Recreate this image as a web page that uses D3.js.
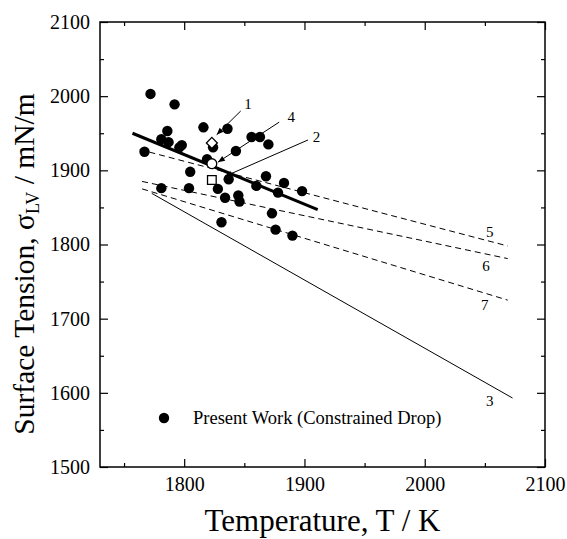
<!DOCTYPE html>
<html>
<head>
<meta charset="utf-8">
<script src="https://cdn.jsdelivr.net/npm/d3@7"></script>
<style>
  body { margin: 0; background: #fff; }
  svg { display: block; }
  text { font-family: "Liberation Serif", "Times New Roman", serif; fill: #000; }
</style>
</head>
<body>
<svg id="chart" width="567" height="539"></svg>
<script>
"use strict";

// Present work (constrained drop) data points [T (K), sigma (mN/m)]
var presentT = [1772, 1792, 1786, 1781, 1787, 1796, 1798, 1767, 1816, 1836, 1824, 1843, 1856, 1863, 1870,
  1819, 1805, 1781, 1804, 1837, 1828, 1834, 1845, 1846, 1868, 1860, 1883, 1878, 1898, 1831, 1873, 1876, 1890];
var presentSigma = [2003, 1989, 1953, 1942, 1938, 1931, 1934, 1925, 1958, 1956, 1931, 1926, 1945, 1945, 1935,
  1915, 1898, 1876, 1876, 1888, 1875, 1863, 1866, 1858, 1892, 1879, 1883, 1870, 1872, 1830, 1842, 1820, 1812];

// literature single points: 1 = diamond, 4 = circle, 2 = square
var refPointLabels = ["1", "4", "2"];
var refPointShapes = ["diamond", "circle", "square"];
var refPointT = [1823, 1823, 1823];
var refPointSigma = [1937, 1909, 1887];

// arrows pointing at the single points: label position, arrow start, arrow tip
var arrowLabelT = [1853, 1889, 1910];
var arrowLabelSigma = [1990, 1972, 1945];
var arrowFromT = [1847, 1879, 1903];
var arrowFromSigma = [1980, 1965, 1941];
var arrowToT = [1827, 1828, 1834];
var arrowToSigma = [1948, 1911, 1892];

// present work linear fit
var fitT = [1757, 1911];
var fitSigma = [1950, 1847];

// literature lines: label, style, end points
var litLabels = ["3", "5", "6", "7"];
var litDashed = [false, true, true, true];
var litT0 = [1773, 1763, 1765, 1765];
var litSigma0 = [1869, 1928, 1885, 1875];
var litT1 = [2073, 2069, 2069, 2069];
var litSigma1 = [1593, 1798, 1781, 1725];
var litLabelT = [2054, 2054, 2051, 2050];
var litLabelSigma = [1589, 1817, 1772, 1719];

var xTicks = [1800, 1900, 2000, 2100];
var xMinorTicks = [1750, 1850, 1950, 2050];
var yTicks = [1500, 1600, 1700, 1800, 1900, 2000, 2100];
var yMinorTicks = [1550, 1650, 1750, 1850, 1950, 2050];

var margin = { left: 100, right: 22, top: 22, bottom: 72 };
var width = 567, height = 539;

var svg = d3.select("#chart");
var x = d3.scaleLinear().domain([1730, 2100]).range([margin.left, width - margin.right]);
var y = d3.scaleLinear().domain([1500, 2100]).range([height - margin.bottom, margin.top]);

var MAJOR = 8, MINOR = 4;

function styleAxis(g, showText) {
  g.select(".domain").remove();
  g.selectAll("line").attr("stroke", "#000").attr("stroke-width", 1.2);
  if (!showText) {
    g.selectAll("text").remove();
  } else {
    g.selectAll("text").style("font-size", "20px").style("font-family", "Liberation Serif");
  }
}

// bottom + top axes
svg.append("g").attr("transform", "translate(0," + y.range()[0] + ")")
  .call(d3.axisBottom(x).tickValues(xTicks).tickSize(-MAJOR).tickPadding(10).tickFormat(d3.format("d")))
  .call(styleAxis, true);
svg.append("g").attr("transform", "translate(0," + y.range()[0] + ")")
  .call(d3.axisBottom(x).tickValues(xMinorTicks).tickSize(-MINOR))
  .call(styleAxis, false);
svg.append("g").attr("transform", "translate(0," + y.range()[1] + ")")
  .call(d3.axisTop(x).tickValues(xTicks).tickSize(-MAJOR))
  .call(styleAxis, false);
svg.append("g").attr("transform", "translate(0," + y.range()[1] + ")")
  .call(d3.axisTop(x).tickValues(xMinorTicks).tickSize(-MINOR))
  .call(styleAxis, false);

// left + right axes
svg.append("g").attr("transform", "translate(" + x.range()[0] + ",0)")
  .call(d3.axisLeft(y).tickValues(yTicks).tickSize(-MAJOR).tickPadding(10).tickFormat(d3.format("d")))
  .call(styleAxis, true);
svg.append("g").attr("transform", "translate(" + x.range()[0] + ",0)")
  .call(d3.axisLeft(y).tickValues(yMinorTicks).tickSize(-MINOR))
  .call(styleAxis, false);
svg.append("g").attr("transform", "translate(" + x.range()[1] + ",0)")
  .call(d3.axisRight(y).tickValues(yTicks).tickSize(-MAJOR))
  .call(styleAxis, false);
svg.append("g").attr("transform", "translate(" + x.range()[1] + ",0)")
  .call(d3.axisRight(y).tickValues(yMinorTicks).tickSize(-MINOR))
  .call(styleAxis, false);

// frame
svg.append("rect")
  .attr("x", x.range()[0]).attr("y", y.range()[1])
  .attr("width", x.range()[1] - x.range()[0])
  .attr("height", y.range()[0] - y.range()[1])
  .attr("fill", "none").attr("stroke", "#000").attr("stroke-width", 1.5);

// literature lines
litLabels.forEach(function (lab, i) {
  svg.append("line")
    .attr("x1", x(litT0[i])).attr("y1", y(litSigma0[i]))
    .attr("x2", x(litT1[i])).attr("y2", y(litSigma1[i]))
    .attr("stroke", "#000").attr("stroke-width", 1)
    .attr("stroke-dasharray", litDashed[i] ? "6,4" : null);
  svg.append("text")
    .attr("x", x(litLabelT[i])).attr("y", y(litLabelSigma[i]))
    .attr("text-anchor", "middle").attr("dy", "0.35em")
    .style("font-size", "15px").text(lab);
});

// fit line
svg.append("line")
  .attr("x1", x(fitT[0])).attr("y1", y(fitSigma[0]))
  .attr("x2", x(fitT[1])).attr("y2", y(fitSigma[1]))
  .attr("stroke", "#000").attr("stroke-width", 3);

// present data points
svg.append("g").selectAll("circle")
  .data(d3.range(presentT.length))
  .enter().append("circle")
  .attr("cx", function (i) { return x(presentT[i]); })
  .attr("cy", function (i) { return y(presentSigma[i]); })
  .attr("r", 5.2)
  .attr("fill", "#000");

// single literature points (diamond = square turned by 45 degrees)
var symbolTypes = { diamond: d3.symbolSquare, circle: d3.symbolCircle, square: d3.symbolSquare };
var symbolSizes = { diamond: 60, circle: 75, square: 75 };
var symbolRotate = { diamond: 45, circle: 0, square: 0 };
refPointShapes.forEach(function (shape, i) {
  svg.append("path")
    .attr("d", d3.symbol().type(symbolTypes[shape]).size(symbolSizes[shape])())
    .attr("transform", "translate(" + x(refPointT[i]) + "," + y(refPointSigma[i]) + ") rotate(" + symbolRotate[shape] + ")")
    .attr("fill", "#fff").attr("stroke", "#000").attr("stroke-width", 1.3);
});

// arrows with labels
svg.append("defs").append("marker")
  .attr("id", "arrowhead")
  .attr("viewBox", "0 0 10 10")
  .attr("refX", 10).attr("refY", 5)
  .attr("markerWidth", 8).attr("markerHeight", 7)
  .attr("markerUnits", "userSpaceOnUse")
  .attr("orient", "auto")
  .append("path").attr("d", "M0,1 L10,5 L0,9 Z").attr("fill", "#000");

refPointLabels.forEach(function (lab, i) {
  svg.append("line")
    .attr("x1", x(arrowFromT[i])).attr("y1", y(arrowFromSigma[i]))
    .attr("x2", x(arrowToT[i])).attr("y2", y(arrowToSigma[i]))
    .attr("stroke", "#000").attr("stroke-width", 1)
    .attr("marker-end", "url(#arrowhead)");
  svg.append("text")
    .attr("x", x(arrowLabelT[i])).attr("y", y(arrowLabelSigma[i]))
    .attr("text-anchor", "middle").attr("dy", "0.35em")
    .style("font-size", "15px").text(lab);
});

// legend
var legend = svg.append("g").attr("transform", "translate(" + (x.range()[0] + 64) + "," + (y.range()[0] - 49) + ")");
legend.append("circle").attr("r", 5.2).attr("fill", "#000");
legend.append("text").attr("x", 29).attr("dy", "0.33em")
  .style("font-size", "18.5px").text("Present Work (Constrained Drop)");

// axis titles
svg.append("text")
  .attr("x", (x.range()[0] + x.range()[1]) / 2).attr("y", 531)
  .attr("text-anchor", "middle")
  .style("font-size", "31px")
  .text("Temperature, T / K");

var yTitle = svg.append("text")
  .attr("transform", "translate(34,264) rotate(-90)")
  .attr("text-anchor", "middle")
  .style("font-size", "29.5px");
yTitle.append("tspan").text("Surface Tension, \u03C3");
yTitle.append("tspan").attr("dy", "0.3em").style("font-size", "18px").text("LV");
yTitle.append("tspan").attr("dy", "-0.18em").text(" / mN/m");
</script>
</body>
</html>
